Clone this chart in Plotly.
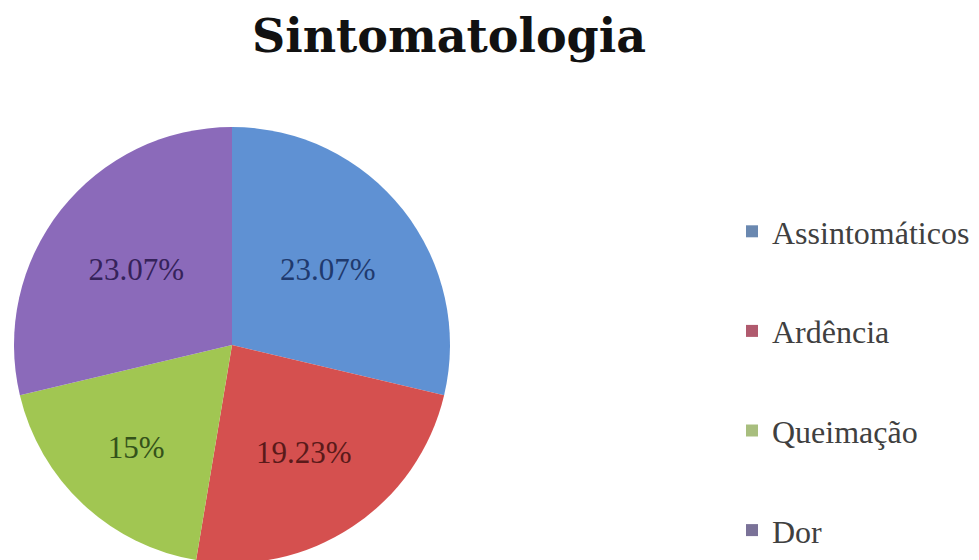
import plotly.graph_objects as go

categories = ["Assintomáticos", "Ardência", "Queimação", "Dor"]
values = [23.07, 19.23, 15, 23.07]
value_labels = ["23.07%", "19.23%", "15%", "23.07%"]
slice_colors = ["#5F91D3", "#D5504F", "#A1C652", "#8B6ABA"]
label_colors = ["#1F3A6E", "#5A1A1A", "#34521A", "#35225A"]
legend_colors = ["#6A88B0", "#B05A6E", "#A8BE7E", "#7A7298"]

# page body has an 8px margin; the pie is allowed to run past the bottom edge
W, H = 971, 560

fig = go.Figure()
fig.add_trace(go.Pie(
    labels=categories,
    values=values,
    text=value_labels,
    textinfo="text",
    textposition="inside",
    insidetextorientation="horizontal",
    sort=False,
    direction="clockwise",
    rotation=0,
    marker=dict(colors=slice_colors, line=dict(width=0)),
    textfont=dict(family="Liberation Serif", size=31, color=label_colors),
    domain=dict(x=[6 / W, 442 / W], y=[0, 446 / H]),
    showlegend=False,
    hoverinfo="label+text",
))

for i, (name, col) in enumerate(zip(categories, legend_colors)):
    fig.add_trace(go.Scatter(
        x=[None], y=[None], mode="markers", name=name,
        marker=dict(symbol="square", size=10, color=col),
        legendgroup=f"g{i}", showlegend=True,
    ))

fig.update_layout(
    width=W, height=H,
    margin=dict(l=0, r=0, t=0, b=0),
    paper_bgcolor="white", plot_bgcolor="white",
    title=dict(text="<b>Sintomatologia</b>", x=441 / W, xanchor="center",
               y=1 - 28 / H, yanchor="middle",
               font=dict(family="DejaVu Serif", size=46, color="#111111")),
    xaxis=dict(visible=False), yaxis=dict(visible=False),
    legend=dict(x=724 / W, xanchor="left", y=1 - 196 / H, yanchor="top",
                font=dict(family="Liberation Serif", size=32, color="#404040"),
                tracegroupgap=55, itemsizing="constant",
                bgcolor="rgba(0,0,0,0)"),
)

fig.write_html("out.html")
